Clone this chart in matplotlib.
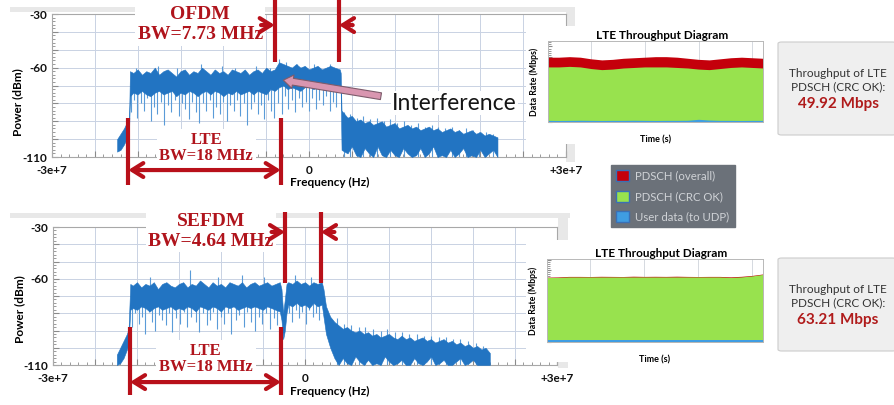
import numpy as np
import matplotlib
matplotlib.use('Agg')
import matplotlib.pyplot as plt
from matplotlib.patches import Rectangle, FancyBboxPatch, Patch
from matplotlib.ticker import MultipleLocator, FuncFormatter

W, H = 894, 405

# ---------------- spectrum data (frequency in MHz, power in dBm) ----------------
# upper panel: LTE band with an overlapping OFDM signal
TOP_FREQ = [-22.4, -22.0, -21.6, -21.2, -21.0,
            -20.9, -20.5, -20.0, -19.5, -19.0, -18.5, -18.0, -17.5, -17.0, -16.5,
            -16.0, -15.5, -15.0, -14.5, -14.0, -13.5, -13.0, -12.5, -12.0, -11.5,
            -11.0, -10.5, -10.0, -9.5, -9.0, -8.5, -8.0, -7.5, -7.0, -6.5,
            -6.0, -5.5, -5.0, -4.5, -4.0,
            -3.5, -3.0, -2.5, -2.0, -1.5, -1.0, -0.5, 0.0, 0.5, 1.0,
            1.5, 2.0, 2.5, 3.0, 3.6, 3.7,
            3.8, 4.5, 5.0, 5.5, 6.0, 6.5, 7.0, 7.5, 8.0, 8.5,
            9.0, 9.5, 10.0, 10.5, 11.0, 11.5, 12.0, 12.5, 13.0, 13.5,
            14.0, 14.5, 15.0, 15.5, 16.0, 16.5, 17.0, 17.5, 18.0, 18.5,
            19.0, 19.5, 20.0, 20.5, 21.0, 21.5, 22.0]
TOP_UPPER = [-100, -97, -94, -90, -88,
             -62, -63, -61, -64, -62, -63, -60, -64, -62, -61,
             -63, -65, -62, -61, -64, -62, -63, -60, -62, -64,
             -61, -63, -62, -64, -61, -62, -63, -61, -64, -62,
             -61, -63, -60, -62, -61,
             -57, -58, -59, -60, -58, -60, -59, -61, -60, -59,
             -61, -60, -59, -60, -61, -63,
             -84, -88, -87, -90, -89, -91, -90, -92, -91, -90,
             -93, -92, -91, -94, -93, -92, -94, -93, -95, -94,
             -93, -95, -94, -96, -95, -94, -96, -95, -97, -96,
             -95, -97, -96, -98, -97, -98, -99]
TOP_LOWER = [-107, -106, -103, -99, -95,
             -76, -74, -75, -73, -75, -76, -74, -73, -75, -74,
             -73, -76, -74, -75, -73, -74, -76, -74, -73, -75,
             -73, -74, -76, -74, -75, -73, -75, -74, -73, -75,
             -73, -74, -75, -72, -73,
             -71, -70, -72, -71, -72, -73, -71, -70, -72, -71,
             -71, -72, -71, -70, -72, -74,
             -106, -108, -104, -109, -110, -105, -108, -110, -104, -109,
             -110, -106, -109, -110, -105, -108, -110, -109, -105, -110,
             -108, -104, -110, -109, -110, -106, -110, -108, -105, -110,
             -109, -110, -106, -110, -108, -106, -110]
TOP_SPIKE_FREQ = [-20.8, -20.4, -20.1, -19.6, -19.3, -18.9, -18.5, -18.1, -17.8, -17.3,
                  -16.9, -16.5, -16.1, -15.7, -15.2, -14.8, -14.5, -14.0, -13.6, -13.2,
                  -12.8, -12.4, -12.0, -11.6, -11.2, -10.8, -10.4, -10.0, -9.6, -9.2,
                  -8.8, -8.4, -8.0, -7.6, -7.2, -6.8, -6.4, -6.0, -5.6, -5.2,
                  -4.8, -4.4, -4.1,
                  -3.6, -3.2, -2.8, -2.4, -2.0, -1.6, -1.2, -0.8, -0.4, 0.0,
                  0.4, 0.8, 1.2, 1.6, 2.0, 2.4, 2.8, 3.2,
                  -20.2, -17.6, -15.4, -12.6, -10.2, -8.6, -6.2, -4.6,
                  -3.5, -2.7, -1.4, 0.6, 2.5,
                  4.1, 4.8, 5.6, 6.3, 7.1, 7.9, 8.7, 9.5, 10.3, 11.1,
                  11.9, 12.7, 13.5, 14.3, 15.1, 15.9, 16.7, 17.5, 18.3, 19.1,
                  19.9, 20.7, 21.5]
TOP_SPIKE_HIGH = [-68] * 43 + [-66] * 18 + \
                 [-60, -59, -60, -58, -59, -60, -59, -60,
                  -55, -57, -58, -58, -58,
                  -85, -86, -88, -87, -89, -88, -90, -89, -91, -90,
                  -92, -91, -93, -92, -93, -94, -93, -95, -94, -95,
                  -96, -96, -97]
TOP_SPIKE_LOW = [-85, -78, -88, -80, -84, -77, -90, -82, -86, -79,
                 -92, -81, -85, -78, -87, -80, -83, -89, -79, -85,
                 -91, -80, -84, -78, -88, -82, -86, -79, -90, -81,
                 -84, -78, -87, -80, -92, -83, -79, -86, -81, -89,
                 -78, -84, -88,
                 -80, -86, -76, -83, -78, -85, -77, -82, -79, -84,
                 -77, -83, -78, -81, -76, -84, -79, -82,
                 -66, -66, -66, -66, -66, -66, -66, -66,
                 -64, -64, -64, -64, -64,
                 -110, -110, -110, -110, -110, -110, -110, -110, -110, -110,
                 -110, -110, -110, -110, -110, -110, -110, -110, -110, -110,
                 -110, -110, -110]

# lower panel: LTE band next to a SEFDM signal
BOT_FREQ = [-22.4, -22.0, -21.6, -21.2, -21.0,
            -20.8, -20.5, -20.0, -19.5, -19.0, -18.5, -18.0, -17.5, -17.0, -16.5,
            -16.0, -15.5, -15.0, -14.5, -14.0, -13.5, -13.0, -12.5, -12.0, -11.5,
            -11.0, -10.5, -10.0, -9.5, -9.0, -8.5, -8.0, -7.5, -7.0, -6.5,
            -6.0, -5.5, -5.0, -4.5, -4.0, -3.5, -3.0,
            -2.8, -2.6, -2.4, -2.2,
            -2.0, -1.5, -1.0, -0.5, 0.0, 0.5, 1.0, 1.5, 2.0,
            2.2, 2.5, 3.0, 3.5,
            4.0, 4.5, 5.0, 5.5, 6.0, 6.5, 7.0, 7.5, 8.0, 8.5,
            9.0, 9.5, 10.0, 10.5, 11.0, 11.5, 12.0, 12.5, 13.0, 13.5,
            14.0, 14.5, 15.0, 15.5, 16.0, 16.5, 17.0, 17.5, 18.0, 18.5,
            19.0, 19.5, 20.0, 20.5, 21.0, 21.5, 22.0]
BOT_UPPER = [-104, -100, -96, -92, -89,
             -63, -64, -62, -65, -63, -64, -62, -66, -63, -62,
             -64, -65, -63, -62, -65, -63, -64, -61, -63, -65,
             -62, -64, -63, -65, -62, -63, -64, -62, -65, -63,
             -62, -64, -63, -62, -64, -63, -62,
             -66, -80, -72, -63,
             -62, -63, -61, -63, -62, -64, -62, -63, -62,
             -66, -76, -82, -85,
             -87, -89, -88, -90, -91, -90, -92, -91, -93, -92,
             -94, -93, -92, -94, -95, -93, -95, -94, -96, -95,
             -94, -96, -95, -97, -96, -95, -97, -96, -98, -97,
             -99, -98, -100, -99, -101, -100, -103]
BOT_LOWER = [-110, -109, -106, -101, -97,
             -78, -77, -78, -76, -77, -79, -77, -76, -78, -77,
             -76, -78, -77, -78, -76, -77, -79, -76, -77, -78,
             -76, -77, -79, -76, -77, -76, -78, -77, -76, -77,
             -76, -77, -78, -76, -77, -78, -79,
             -84, -95, -90, -80,
             -75, -76, -74, -76, -75, -77, -74, -76, -75,
             -82, -92, -100, -106,
             -110, -106, -109, -110, -105, -108, -110, -107, -110, -109,
             -110, -105, -108, -110, -109, -107, -110, -110, -106, -109,
             -110, -108, -105, -110, -109, -107, -110, -110, -108, -106,
             -110, -109, -107, -110, -110, -110, -110]
BOT_SPIKE_FREQ = [-20.6, -20.2, -19.8, -19.4, -19.0, -18.6, -18.2, -17.8, -17.4, -17.0,
                  -16.6, -16.2, -15.8, -15.3, -14.9, -14.4, -14.0, -13.6, -13.0, -12.6,
                  -12.1, -11.7, -11.3, -10.9, -10.5, -10.0, -9.6, -9.2, -8.8, -8.2,
                  -7.8, -7.3, -6.9, -6.4, -6.0, -5.5, -5.1, -4.6, -4.2, -3.7, -3.3,
                  -1.9, -1.5, -1.1, -0.7, -0.3, 0.1, 0.5, 0.9, 1.3, 1.7,
                  -18.4, -13.7, -10.3, -7.5, -4.9, -1.2, 0.7,
                  3.8, 4.6, 5.5, 6.4, 7.2, 8.1, 9.0, 9.8, 10.7, 11.6,
                  12.4, 13.3, 14.2, 15.0, 15.9, 16.8, 17.6, 18.5, 19.4, 20.3, 21.2]
BOT_SPIKE_HIGH = [-70] * 41 + [-68] * 10 + \
                 [-59, -55, -59, -58, -59, -58, -59,
                  -83, -86, -87, -88, -88, -89, -90, -89, -91, -91,
                  -92, -92, -93, -93, -94, -94, -95, -95, -96, -97, -99]
BOT_SPIKE_LOW = [-88, -80, -86, -82, -92, -79, -85, -90, -81, -84,
                 -87, -80, -91, -83, -86, -79, -88, -82, -85, -91,
                 -80, -87, -84, -79, -89, -82, -86, -80, -92, -84,
                 -81, -88, -79, -85, -90, -82, -86, -80, -89, -83, -87,
                 -80, -85, -78, -83, -79, -86, -78, -82, -80, -84,
                 -66, -66, -66, -66, -66, -66, -66,
                 -110, -110, -110, -110, -110, -110, -110, -110, -110, -110,
                 -110, -110, -110, -110, -110, -110, -110, -110, -110, -110, -110]

# ---------------- throughput data (Mbps) ----------------
TIME = [0, 1, 2, 3, 4, 5, 6, 7, 8, 9, 10, 11, 12, 13, 14, 15, 16, 17, 18, 19, 20]
TOP_OVERALL = [60, 60, 60.5, 60, 58.5, 57.5, 58, 59, 59.5, 60, 60.5,
               60.5, 60, 59, 58, 57.5, 58.5, 59.5, 60, 59.5, 59]
TOP_CRC_OK = [51, 51, 51.5, 51, 49.5, 48.5, 49, 50, 50.5, 51, 51,
              51, 50.5, 50, 49, 48.5, 49.5, 50.5, 51, 50.5, 50]
TOP_USER = [1.5, 1.4, 1.5, 1.6, 1.5, 1.4, 1.5, 1.5, 1.6, 1.5, 1.4,
            1.5, 1.5, 1.6, 2.5, 1.8, 1.5, 1.5, 1.4, 1.5, 1.5]
BOT_OVERALL = [63.3, 63.5, 64.0, 64.0, 63.9, 64.1, 64.0, 63.9, 64.2, 64.0, 64.1,
               64.0, 64.2, 64.0, 63.9, 64.0, 64.0, 63.6, 64.1, 65.0, 66.4]
BOT_CRC_OK = [63, 63, 63.5, 63.5, 63.5, 63.5, 63.5, 63.5, 63.5, 63.5, 63.5,
              63.5, 63.5, 63.5, 63.5, 63.5, 63.5, 63, 63.5, 64.5, 66]
BOT_USER = [1.5, 1.5, 1.5, 1.5, 1.5, 1.5, 1.5, 1.5, 1.5, 1.5, 1.5,
            1.5, 1.5, 1.5, 1.5, 1.5, 1.5, 1.5, 1.5, 1.5, 1.5]

LEGEND_LABELS = ['PDSCH (overall)', 'PDSCH (CRC OK)', 'User data (to UDP)']

BLUE = '#2274c2'
SPIKE = '#5a9bd8'
RED = '#b8101a'
RED_TXT = '#b0141c'
GREEN = '#98e24e'
RED_FILL = '#c4000b'
UDP_BLUE = '#3f9de2'

plt.rcParams['font.family'] = ['Lato', 'DejaVu Sans']
plt.rcParams['font.weight'] = 'bold'
plt.rcParams['axes.titleweight'] = 'bold'
plt.rcParams['axes.labelweight'] = 'bold'


def px_rect(left, top, width, height):
    return [left / W, 1 - (top + height) / H, width / W, height / H]


def x_fmt(v, pos):
    if abs(v + 3e7) < 1:
        return '-3e+7'
    if abs(v) < 1:
        return '0'
    if abs(v - 3e7) < 1:
        return '+3e+7'
    return ''


def y_fmt(v, pos):
    return '%d' % v if round(v) in (-30, -60, -110) else ''


def spectrum(ax, freq, upper, lower, sp_f, sp_hi, sp_lo, lab_x, lab_y, ylab_y):
    f = np.array(freq) * 1e6
    ax.vlines(np.array(sp_f) * 1e6, sp_lo, sp_hi, color=SPIKE, lw=0.8, zorder=2)
    ax.fill_between(f, lower, upper, color=BLUE, lw=0.4, zorder=3)
    ax.set_xlim(-3e7, 3e7)
    ax.set_ylim(-110, -30)
    ax.xaxis.set_major_locator(MultipleLocator(5e6))
    ax.xaxis.set_minor_locator(MultipleLocator(1e6))
    ax.yaxis.set_major_locator(MultipleLocator(10))
    ax.yaxis.set_minor_locator(MultipleLocator(2))
    ax.xaxis.set_major_formatter(FuncFormatter(x_fmt))
    ax.yaxis.set_major_formatter(FuncFormatter(y_fmt))
    ax.grid(True, which='major', color='#c9d2e3', lw=0.7)
    ax.set_axisbelow(True)
    ax.tick_params(which='both', direction='in', colors='#8a8a8a', labelcolor='#111111',
                   labelsize=8.5)
    ax.tick_params(which='major', length=4)
    ax.tick_params(which='minor', length=2.5)
    ax.tick_params(axis='x', pad=6)
    for s in ax.spines.values():
        s.set_color('#a8a8a8')
        s.set_linewidth(0.8)
    ax.set_xlabel('Frequency (Hz)', fontsize=8.5)
    ax.xaxis.set_label_coords(lab_x, lab_y)
    ax.set_ylabel('Power (dBm)', fontsize=8.5)
    ax.yaxis.set_label_coords(-0.056, ylab_y)


def bw_marker(ax, f1, f2, y1, y2, ya, arrow_len, outward):
    ax.vlines([f1, f2], y1, y2, color=RED, lw=3, clip_on=False, zorder=6)
    style = '->,head_length=0.8,head_width=0.5'
    props = dict(arrowstyle=style, color=RED, lw=3, shrinkA=0, shrinkB=0)
    if outward:
        ax.annotate('', xy=(f1, ya), xytext=(f2, ya), annotation_clip=False,
                    arrowprops=dict(props, arrowstyle='<->,head_length=0.8,head_width=0.5'),
                    zorder=6)
    else:
        ax.annotate('', xy=(f1, ya), xytext=(f1 - arrow_len, ya), annotation_clip=False,
                    arrowprops=props, zorder=6)
        ax.annotate('', xy=(f2, ya), xytext=(f2 + arrow_len, ya), annotation_clip=False,
                    arrowprops=props, zorder=6)


def label_box(ax, x, y, txt, size, ls):
    ax.text(x, y, txt, ha='center', va='center', family='Liberation Serif',
            weight='bold', fontsize=size, color=RED_TXT, linespacing=ls,
            bbox=dict(fc='white', ec='none', pad=2), clip_on=False, zorder=5)


def throughput(ax, overall, crc, user, ymax):
    ax.fill_between(TIME, 0, overall, color=RED_FILL, lw=0, zorder=2)
    ax.fill_between(TIME, 0, crc, color=GREEN, lw=0, zorder=2)
    ax.fill_between(TIME, 0, user, color=UDP_BLUE, lw=0, zorder=2)
    ax.set_xlim(0, 20)
    ax.set_ylim(0, ymax)
    ax.set_xticks([4, 9, 14, 19])
    ax.xaxis.set_minor_locator(MultipleLocator(1))
    ax.yaxis.set_major_locator(MultipleLocator(10))
    ax.yaxis.set_minor_locator(MultipleLocator(2))
    ax.set_xticklabels([])
    ax.set_yticklabels([])
    ax.grid(axis='x', color='#d5d9e0', lw=0.7, zorder=1)
    ax.set_axisbelow(True)
    ax.tick_params(which='both', direction='in', colors='#8a8a8a')
    ax.tick_params(which='major', length=3)
    ax.tick_params(which='minor', length=1.8)
    for s in ax.spines.values():
        s.set_color('#b8b8b8')
        s.set_linewidth(0.7)
    ax.set_title('LTE Throughput Diagram', fontsize=8.5, pad=1, x=0.53)
    ax.set_ylabel('Data Rate (Mbps)', fontsize=6.3, labelpad=3)
    ax.set_xlabel('Time (s)', fontsize=6.5, labelpad=6)


fig = plt.figure(figsize=(W / 100, H / 100), dpi=100)
fig.patch.set_facecolor('white')

# light grey window frames behind the spectrum plots
for rect in [(10, 7, 565, 5), (566, 7, 9, 155), (10, 213, 560, 5), (558, 213, 10, 155)]:
    fig.patches.append(Rectangle((rect[0] / W, 1 - (rect[1] + rect[3]) / H),
                                 rect[2] / W, rect[3] / H, transform=fig.transFigure,
                                 fc='#e8e8e8', ec='none', zorder=-1))

# ---------------- upper spectrum ----------------
ax1 = fig.add_axes(px_rect(52, 14, 514, 143))
spectrum(ax1, TOP_FREQ, TOP_UPPER, TOP_LOWER, TOP_SPIKE_FREQ, TOP_SPIKE_HIGH,
         TOP_SPIKE_LOW, 0.54, -0.14, 0.385)
bw_marker(ax1, -4.0e6, 3.5e6, -57, -22, -36.2, 1.6e6, False)
bw_marker(ax1, -21.1e6, -3.3e6, -125.7, -88.2, -117.3, 0, True)
label_box(ax1, -12.7e6, -36.0, 'OFDM\nBW=7.73 MHz', 14, 1.25)
label_box(ax1, -12.0e6, -105.0, 'LTE\nBW=18 MHz', 12, 1.05)
ax1.annotate('', xy=(-3.0e6, -67), xytext=(8.4e6, -76), annotation_clip=False,
             arrowprops=dict(arrowstyle='simple,head_length=0.5,head_width=0.7,tail_width=0.35',
                             fc='#d996b0', ec='#7d5b6b', lw=0.8, mutation_scale=14,
                             shrinkA=0, shrinkB=0), zorder=6)
ax1.text(17.0e6, -79.8, 'Interference', ha='center', va='center', fontsize=16.5,
         weight='normal', color='#151515', clip_on=False, zorder=5,
         bbox=dict(fc='white', ec='none', pad=1))

# ---------------- lower spectrum ----------------
ax2 = fig.add_axes(px_rect(53, 227, 504, 138))
spectrum(ax2, BOT_FREQ, BOT_UPPER, BOT_LOWER, BOT_SPIKE_FREQ, BOT_SPIKE_HIGH,
         BOT_SPIKE_LOW, 0.548, -0.152, 0.406)
bw_marker(ax2, -2.38e6, 1.9e6, -62.5, -21.3, -32.9, 1.6e6, False)
bw_marker(ax2, -20.83e6, -2.86e6, -127.4, -88.0, -119.9, 0, True)
label_box(ax2, -11.2e6, -32.4, 'SEFDM\nBW=4.64 MHz', 14, 1.25)
label_box(ax2, -11.8e6, -106.5, 'LTE\nBW=18 MHz', 12, 1.05)

# ---------------- throughput diagrams ----------------
for bg, rect, data, ymax in [((526, 26, 246, 118), (548, 41, 215, 81),
                              (TOP_OVERALL, TOP_CRC_OK, TOP_USER), 75),
                             ((526, 240, 246, 122), (547, 259, 216, 83),
                              (BOT_OVERALL, BOT_CRC_OK, BOT_USER), 81)]:
    bax = fig.add_axes(px_rect(*bg))
    bax.set_xticks([])
    bax.set_yticks([])
    for s in bax.spines.values():
        s.set_visible(False)
    tax = fig.add_axes(px_rect(*rect))
    throughput(tax, *data, ymax)

# result boxes
for top, value in [(42, '49.92 Mbps'), (258, '63.21 Mbps')]:
    fig.patches.append(FancyBboxPatch((778 / W, 1 - (top + 93) / H), 118 / W, 93 / H,
                                      boxstyle='round,pad=0,rounding_size=0.004',
                                      transform=fig.transFigure, fc='#efefef',
                                      ec='#cccccc', lw=0.8, zorder=1))
    fig.text(838 / W, 1 - (top + 38) / H, 'Throughput of LTE\nPDSCH (CRC OK):',
             ha='center', va='center', fontsize=8.5, weight='normal', color='#333333',
             linespacing=1.3)
    fig.text(838 / W, 1 - (top + 62) / H, value, ha='center', va='center',
             fontsize=11, weight='bold', color='#b01b1b')

# legend
handles = [Patch(fc=c, ec='#3a70b6', lw=1) for c in (RED_FILL, GREEN, UDP_BLUE)]
leg = fig.legend(handles, LEGEND_LABELS, loc='upper left',
                 bbox_to_anchor=(611 / W, 1 - 165 / H), borderaxespad=0,
                 frameon=True, fancybox=False,
                 facecolor='#6b7179', edgecolor='#6b7179', framealpha=1,
                 prop={'size': 8.2, 'weight': 'normal'}, labelcolor='#cfd2d6',
                 handlelength=1.1, handleheight=1.1, labelspacing=0.8,
                 borderpad=0.45, handletextpad=0.6)

fig.savefig('out.png', dpi=100)
